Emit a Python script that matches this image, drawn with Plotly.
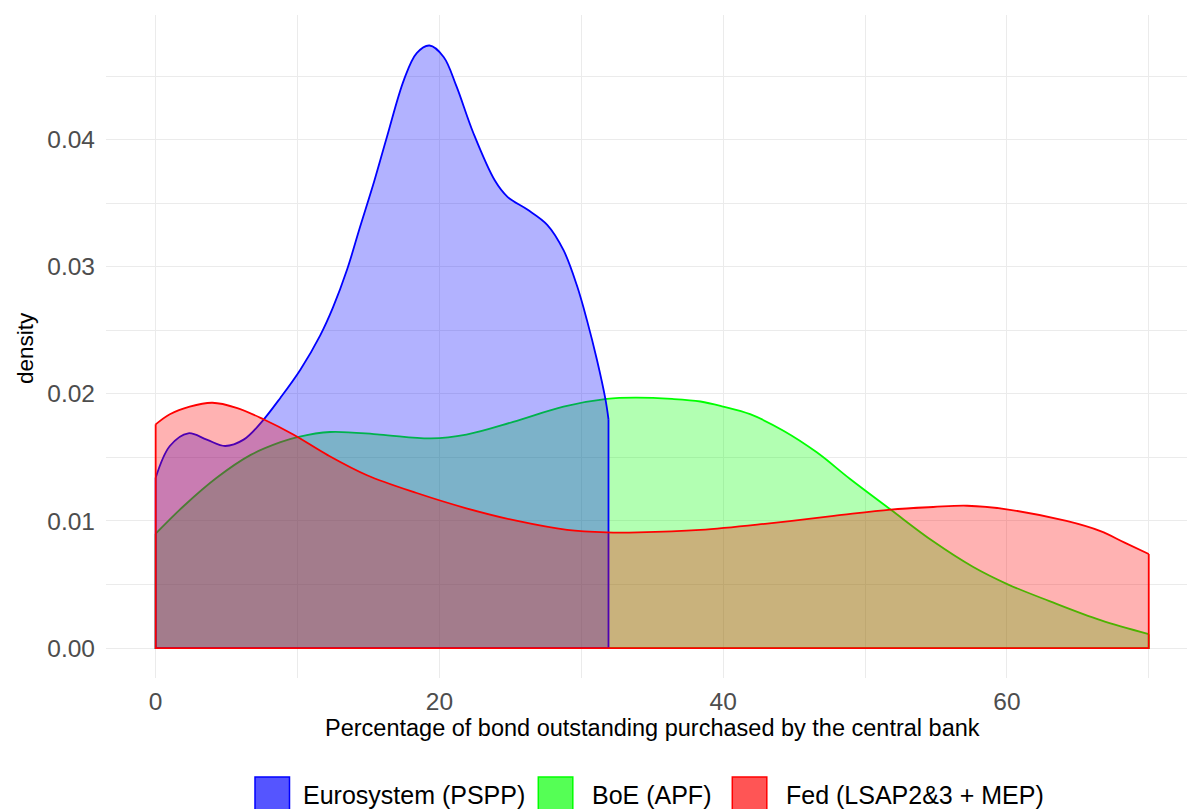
import plotly.graph_objects as go

# ---------------- data ----------------
series_names = ["Eurosystem (PSPP)", "BoE (APF)", "Fed (LSAP2&3 + MEP)"]

euro_x = [0, 1.0, 2.3, 3.6, 4.9, 6.2, 7.4, 8.8, 10.2, 11.6, 12.5, 13.5, 14.4, 15.4, 16.3,
          17.5, 18.4, 19.3, 20.3, 21.2, 22.4, 23.9, 24.8, 26.2, 27.6, 28.75, 29.7, 30.4,
          31.1, 31.7, 31.92]
euro_d = [0.0134, 0.0159, 0.0169, 0.0164, 0.0159, 0.0164, 0.0177, 0.0197, 0.0219, 0.0246,
          0.0268, 0.0298, 0.0331, 0.0367, 0.0402, 0.0447, 0.0468, 0.0474, 0.0465, 0.0442,
          0.0405, 0.0368, 0.0355, 0.0345, 0.0333, 0.0313, 0.0285, 0.0258, 0.0227, 0.0196,
          0.0180]

boe_x = [0, 2.0, 4.3, 6.7, 8.8, 10.0, 12.3, 15.8, 19.4, 21.9, 25.2, 28.75, 31.8, 33.8,
         36.4, 38.4, 40.0, 41.9, 44.25, 46.6, 48.95, 51.8, 54.8, 57.6, 60.1, 63.0, 66.6, 70.0]
boe_d = [0.0090, 0.0112, 0.0134, 0.0152, 0.0162, 0.0166, 0.0170, 0.0168, 0.0165, 0.0168,
         0.0178, 0.0190, 0.0196, 0.0197, 0.0196, 0.0194, 0.0190, 0.0184, 0.0171, 0.0154,
         0.0133, 0.0109, 0.0084, 0.0064, 0.0050, 0.0037, 0.0022, 0.0011]

fed_x = [0, 1.0, 2.4, 4.0, 5.7, 7.6, 9.7, 12.1, 14.9, 18.4, 21.9, 25.5, 29.0, 31.8, 34.0,
         38.4, 43.1, 47.8, 51.8, 54.8, 57.2, 60.1, 64.2, 66.6, 68.3, 70.0]
fed_d = [0.0176, 0.0184, 0.0190, 0.0193, 0.0189, 0.0180, 0.0168, 0.0152, 0.0136, 0.0122,
         0.0110, 0.0100, 0.0093, 0.0091, 0.0091, 0.0093, 0.0098, 0.0104, 0.0109, 0.0111,
         0.0112, 0.0109, 0.0100, 0.0092, 0.0083, 0.0074]

x_ticks = [0, 20, 40, 60]
y_ticks = [0.00, 0.01, 0.02, 0.03, 0.04]

x_title = "Percentage of bond outstanding purchased by the central bank"
y_title = "density"

# ---------------- styling ----------------
FONT = "Liberation Sans, Arial, sans-serif"
line_cols = {"Eurosystem (PSPP)": "#0000FF", "BoE (APF)": "#00FF00", "Fed (LSAP2&3 + MEP)": "#FF0000"}
fill_cols = {"Eurosystem (PSPP)": "rgba(0,0,255,0.3)", "BoE (APF)": "rgba(0,255,0,0.3)",
             "Fed (LSAP2&3 + MEP)": "rgba(255,0,0,0.3)"}
key_cols = {"Eurosystem (PSPP)": "#5555FF", "BoE (APF)": "#55FF55", "Fed (LSAP2&3 + MEP)": "#FF5555"}

data = {
    "Eurosystem (PSPP)": (euro_x, euro_d),
    "BoE (APF)": (boe_x, boe_d),
    "Fed (LSAP2&3 + MEP)": (fed_x, fed_d),
}
draw_order = ["BoE (APF)", "Eurosystem (PSPP)", "Fed (LSAP2&3 + MEP)"]

W, H = 1187, 809
PL, PT, PB_PX = 106, 15, 678.3  # plot area in pixels
PW = W - PL
PH = PB_PX - PT
LW = 1.8

fig = go.Figure()
for name in draw_order:
    xs, ds = data[name]
    fig.add_trace(go.Scatter(
        x=xs, y=ds, mode="lines", line=dict(color=line_cols[name], width=LW, shape="spline", smoothing=1.0),
        fill="tozeroy", fillcolor=fill_cols[name], showlegend=False, hoverinfo="skip"))
    # closing edges of the density polygon (left edge, baseline, right edge)
    fig.add_trace(go.Scatter(
        x=[xs[0], xs[0], xs[-1], xs[-1]], y=[ds[0], 0, 0, ds[-1]], mode="lines",
        line=dict(color=line_cols[name], width=LW), showlegend=False, hoverinfo="skip"))

# pixel -> paper helpers
def px2x(px):
    return (px - PL) / PW

def py2y(py):
    return (PB_PX - py) / PH

shapes = []
annotations = []

# custom legend (bottom, horizontal; cut by the bottom edge as in the reference)
key_left_px = [255, 538.3, 732.3]
text_left_px = [301.0, 590.0, 784.0]
for i, name in enumerate(series_names):
    shapes.append(dict(type="rect", xref="paper", yref="paper",
                       x0=px2x(key_left_px[i]), x1=px2x(key_left_px[i] + 34.5),
                       y0=py2y(812), y1=py2y(777.3),
                       fillcolor=key_cols[name], line=dict(color=line_cols[name], width=1.5),
                       layer="above"))
    annotations.append(dict(text=series_names[i], xref="paper", yref="paper",
                            x=px2x(text_left_px[i]), y=py2y(795.5), xanchor="left", yanchor="middle",
                            showarrow=False, font=dict(family=FONT, size=25, color="#000000")))

# axis titles
annotations.append(dict(text=x_title, xref="x", yref="paper", x=35, y=py2y(728),
                        xanchor="center", yanchor="middle", showarrow=False,
                        font=dict(family=FONT, size=23.5, color="#000000")))
annotations.append(dict(text=y_title, xref="paper", yref="y", x=px2x(25), y=0.0236,
                        xanchor="center", yanchor="middle", textangle=-90, showarrow=False,
                        font=dict(family=FONT, size=22.5, color="#000000")))

x0_val = -3.5
x_per_px = 77.0 / (1198.4 - PL)
x1_val = x0_val + PW * x_per_px

fig.update_layout(
    width=W, height=H,
    margin=dict(l=PL, r=0, t=PT, b=H - PB_PX, pad=0),
    paper_bgcolor="white", plot_bgcolor="white",
    showlegend=False,
    shapes=shapes, annotations=annotations,
    font=dict(family=FONT),
    xaxis=dict(range=[x0_val, x1_val], tickvals=x_ticks, ticktext=[str(v) for v in x_ticks],
               showgrid=True, gridcolor="#EBEBEB", gridwidth=1.3, zeroline=False, showline=False,
               ticks="", ticklabelstandoff=6,
               tickfont=dict(family=FONT, size=24.5, color="#4D4D4D"),
               minor=dict(dtick=10, tick0=0, showgrid=True, gridcolor="#EBEBEB", gridwidth=0.9)),
    yaxis=dict(range=[-0.00235, 0.0498], tickvals=y_ticks, ticktext=[f"{v:.2f}" for v in y_ticks],
               showgrid=True, gridcolor="#EBEBEB", gridwidth=1.3, zeroline=False, showline=False,
               ticks="", ticklabelstandoff=10,
               tickfont=dict(family=FONT, size=24.5, color="#4D4D4D"),
               minor=dict(dtick=0.005, tick0=0, showgrid=True, gridcolor="#EBEBEB", gridwidth=0.9)),
)

fig.write_html("out.html")
